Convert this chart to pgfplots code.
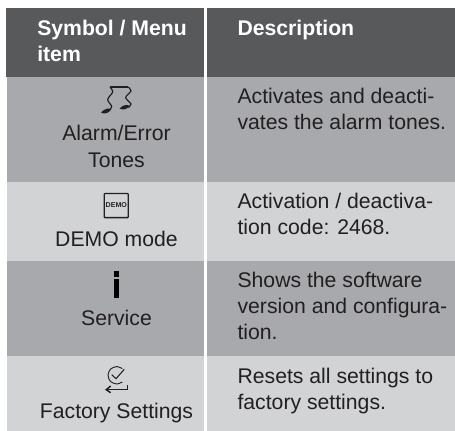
\documentclass[border=0pt]{standalone}
\usepackage{fontspec}
\setmainfont{Liberation Sans}
\usepackage{pgfplots}
\pgfplotsset{compat=1.18}
\definecolor{hdr}{HTML}{58595B}
\definecolor{dk}{HTML}{A7A9AC}
\definecolor{lt}{HTML}{D1D3D4}
\definecolor{ink}{HTML}{231F20}
\newcommand{\bx}[5]{\addplot[draw=none,fill=#1] coordinates {(#2,#3) (#4,#3) (#4,#5) (#2,#5) (#2,#3)} --cycle;}
\newcommand{\tl}[3]{\node[anchor=base west,inner sep=0pt,text=ink] at (axis cs:#1,#2) {\fontsize{15.9}{19}\selectfont #3};}
\newcommand{\tc}[3]{\node[anchor=base,inner sep=0pt,text=ink] at (axis cs:#1,#2) {\fontsize{15.9}{19}\selectfont #3};}
\newcommand{\thd}[3]{\node[anchor=base west,inner sep=0pt,text=white] at (axis cs:#1,#2) {\fontsize{15.9}{19}\selectfont\bfseries #3};}
\begin{document}
\begin{tikzpicture}
\path[use as bounding box] (0,0) rectangle (341.25pt,323.25pt);
\begin{axis}[at={(0,0)},anchor=south west,scale only axis,width=341.25pt,height=323.25pt,xmin=0,xmax=455,ymin=0,ymax=431,y dir=reverse,hide axis,clip=false,no markers]
\bx{hdr}{6}{8}{204}{77}
\bx{hdr}{207}{8}{458}{77}
\bx{dk}{7}{77}{204}{182}
\bx{dk}{207}{77}{458}{182}
\bx{lt}{7}{182}{204}{261}
\bx{lt}{207}{182}{458}{261}
\bx{dk}{7}{261}{204}{356}
\bx{dk}{207}{261}{458}{356}
\bx{lt}{7}{356}{204}{434}
\bx{lt}{207}{356}{458}{434}
% note icon
\addplot[ink,line width=0.9pt] coordinates {(110,87) (128.3,87)};
\addplot[ink,line width=0.9pt,smooth] coordinates {(110,87) (112.7,92) (107.7,99.5) (111.7,106.5) (109,111)};
\addplot[ink,line width=0.9pt,smooth] coordinates {(128.3,87) (131,91) (125.7,97.5) (131,104) (128.3,107.5)};
\addplot[draw=none,fill=ink,smooth] coordinates {(101,112.5) (104,110) (108,108.5) (110.5,109.5) (108,112.5) (104,113.5) (101,112.5)} --cycle;
\addplot[draw=none,fill=ink,smooth] coordinates {(119.7,108.5) (122.7,106) (126.7,105) (129.3,106) (126.7,108.5) (122.7,109.5) (119.7,108.5)} --cycle;
% demo icon
\addplot[ink,line width=1pt] coordinates {(105,193.5) (127.5,193.5) (128.3,194.3) (128.3,216.8) (127.5,217.6) (105,217.6) (104.2,216.8) (104.2,194.3) (105,193.5)};
\node[anchor=base,inner sep=0pt,text=ink] at (axis cs:116.3,207.5) {\fontsize{5.3}{6}\selectfont\bfseries DEMO};
% i icon
\bx{black}{114}{271}{119.5}{277}
\bx{black}{114}{279}{119.5}{298}
% factory icon
\addplot[ink,line width=0.7pt,smooth] coordinates {(122.3,382) (116.7,384) (110.5,381.5) (108,375.3) (110.5,369.1) (116.7,366.6) (122.3,368.6)};
\addplot[ink,line width=0.8pt] coordinates {(111.7,374.7) (116,378.7) (124.3,369.3)};
\addplot[ink,line width=1.1pt] coordinates {(106.7,389.7) (127.3,389.7) (127.3,384.7)};
\addplot[ink,line width=1.1pt] coordinates {(110.7,386) (106.2,389.7) (110.7,392.7)};
% text
\thd{37}{36}{Symbol / Menu}
\thd{37}{62}{item}
\thd{237.3}{36}{Description}
\tc{116.5}{140.5}{Alarm/Error}
\tc{116.5}{167.5}{Tones}
\tc{116.5}{246.5}{DEMO mode}
\tc{116.5}{325.5}{Service}
\tc{116.5}{419}{Factory Settings}
\tl{237.3}{103.5}{Activates and deacti-}
\tl{237.3}{129.5}{vates the alarm tones.}
\tl{237.3}{208.5}{Activation / deactiva-}
\tl{237.3}{235}{tion code: 2468.}
\tl{237.3}{287.5}{Shows the software}
\tl{237.3}{313.5}{version and configura-}
\tl{237.3}{340}{tion.}
\tl{237.3}{383.5}{Resets all settings to}
\tl{237.3}{409.5}{factory settings.}
\end{axis}
\end{tikzpicture}
\end{document}
